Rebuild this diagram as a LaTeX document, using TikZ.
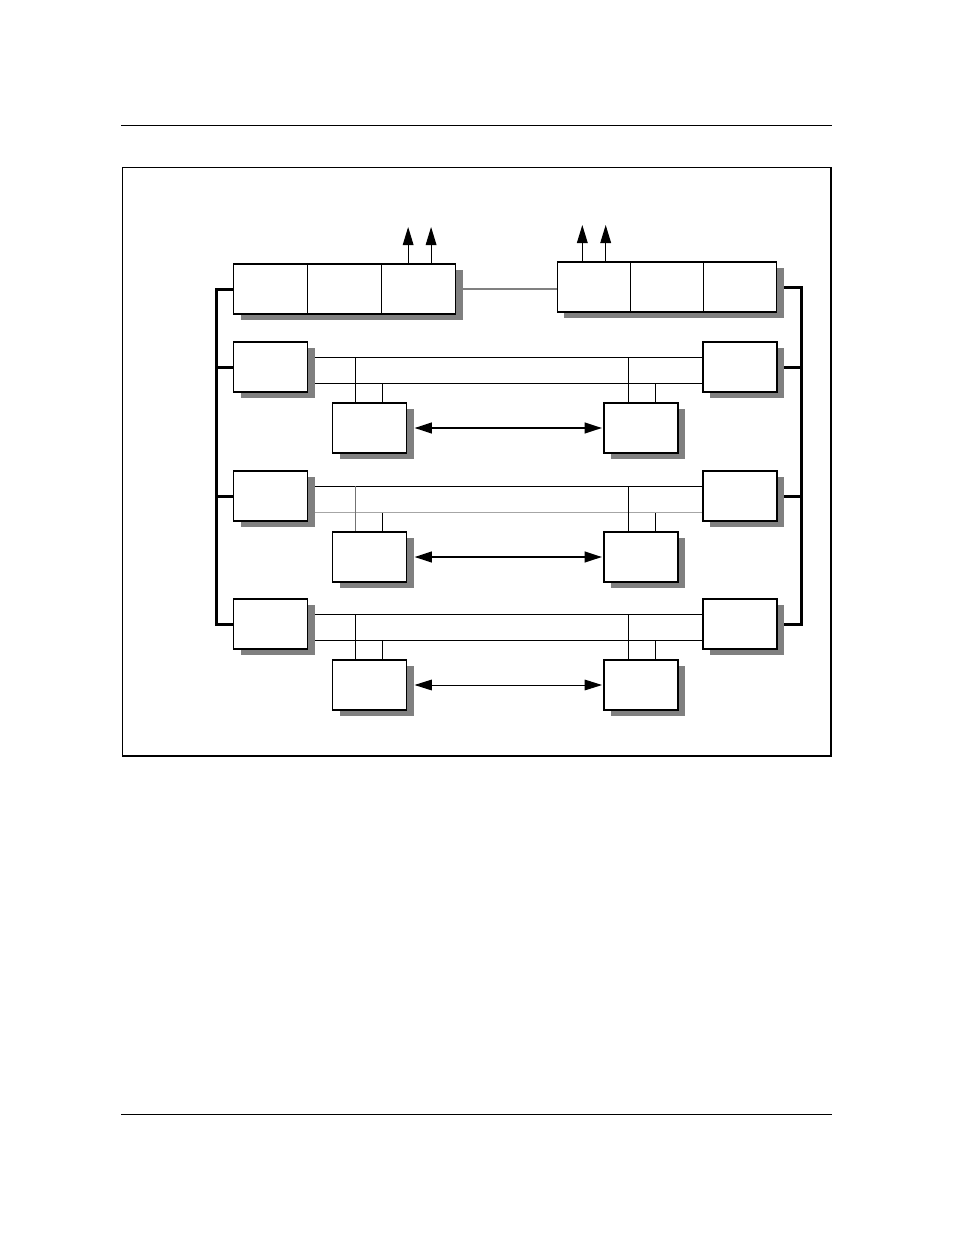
\documentclass[tikz,border=0pt]{standalone}
\usepackage{amsmath}
\usepackage{tikz}
\usetikzlibrary{positioning,calc,shadows,backgrounds,arrows.meta}

\tikzset{
  unit/.style={draw, fill=white, line width=0.8pt, minimum width=55.5pt,
    minimum height=37.5pt, inner sep=0pt, outer sep=0pt,
    drop shadow={shadow xshift=5.25pt, shadow yshift=-4.5pt, fill=black!50, opacity=1}},
  wire/.style={line width=0.75pt},
  bus/.style={line width=2.25pt},
  link/.style={-{Triangle[length=13.5pt, width=8pt]}},
  duplex/.style={{Triangle[length=13pt, width=8pt]}-{Triangle[length=13pt, width=8pt]},
    shorten <=6pt, shorten >=1.5pt}
}

\begin{document}
\begin{tikzpicture}[x=0.75pt, y=-0.75pt]
\useasboundingbox (0,0) rectangle (954,1235);

\draw [line width=0.75pt] (121,125) -- (832,125);
\draw [line width=0.75pt] (121,1114) -- (832,1114);

\draw [line width=0.75pt] (122,756) -- (122,167) -- (831,167);
\draw [line width=1.5pt] (831,167) -- (831,756) -- (121.5,756);

% top groups
\node [unit] (a1) at (270.5,289) {};
\node [unit, right=0pt of a1] (a2) {};
\node [unit, right=0pt of a2] (a3) {};

\node [unit, minimum width=54.8pt] (b1) at (594,287) {};
\node [unit, minimum width=54.8pt, right=0pt of b1] (b2) {};
\node [unit, minimum width=54.8pt, right=0pt of b2] (b3) {};

\foreach \i/\y in {1/367, 2/496, 3/624} {
\node [unit] (l\i) at (270.5,\y) {};
\node [unit] (r\i) at (740,\y) {};
\node [unit] (s\i) at (369.5,\y+61) {};
\node [unit] (t\i) at (641,\y+61) {};
}

\coordinate (lb) at (216,0);
\coordinate (rb) at (801,0);

\begin{scope}[on background layer]
\draw [wire, black!50, line width=1pt] (a3.east) -- (a3.east -| b1.west);

\draw [bus] (a1.west) -| (lb |- l3.west) -- (l3.west);
\draw [bus] (b3.east) -| (rb |- r3.east) -- (r3.east);

\foreach \i/\lc/\vc/\aw in {1/black/black/1.5pt, 2/black!35/black!55/1.5pt, 3/black/black/0.75pt} {
\draw [bus] (l\i.west) -- (l\i.west -| lb);
\draw [bus] (r\i.east) -- (r\i.east -| rb);

\coordinate (u\i) at ($(l\i.north east)!0.3!(l\i.south east)$);
\coordinate (w\i) at ($(l\i.north east)!0.83!(l\i.south east)$);
\draw [wire] (u\i) -- (u\i -| r\i.west);
\draw [wire, \lc] (w\i) -- (w\i -| r\i.west);

\coordinate (sa\i) at ($(s\i.north west)!0.31!(s\i.north east)$);
\coordinate (sb\i) at ($(s\i.north west)!0.68!(s\i.north east)$);
\coordinate (ta\i) at ($(t\i.north west)!0.33!(t\i.north east)$);
\coordinate (tb\i) at ($(t\i.north west)!0.69!(t\i.north east)$);
\draw [wire, \vc] (sa\i) -- (sa\i |- u\i);
\draw [wire] (sb\i) -- (sb\i |- w\i);
\draw [wire] (ta\i) -- (ta\i |- u\i);
\draw [wire] (tb\i) -- (tb\i |- w\i);

\draw [duplex, line width=\aw] (s\i) -- (t\i);
}
\end{scope}

% outgoing arrows
\foreach \c/\p [count=\n] in {a3/0.36, a3/0.67, b1/0.34, b1/0.66} {
\coordinate (up\n) at ($(\c.north west)!\p!(\c.north east)$);
\coordinate (tip\n) at ($(up\n)+(0,-37)$);
\draw [link, wire] (up\n) -- (tip\n);
}

\end{tikzpicture}
\end{document}
